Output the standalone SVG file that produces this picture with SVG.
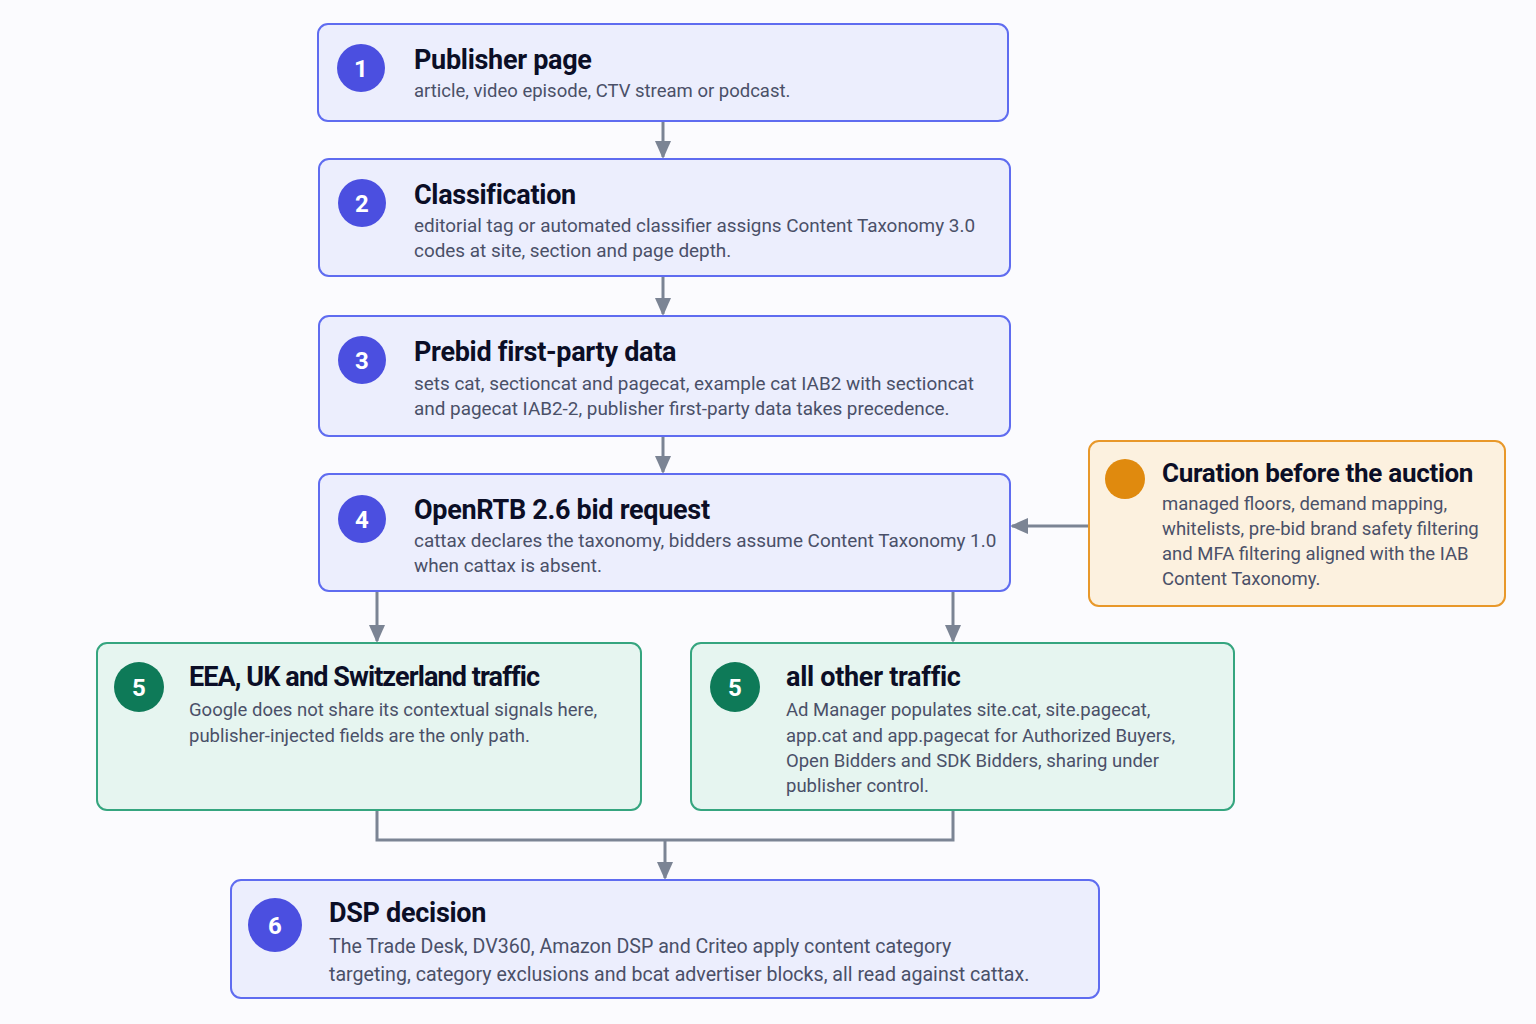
<svg xmlns="http://www.w3.org/2000/svg" width="1536" height="1024" viewBox="0 0 1536 1024">
<style>
.bg{fill:#fbfbfe}
.nb{fill:#eceefd;stroke:#5f6cf0;stroke-width:2}
.ng{fill:#e6f5f0;stroke:#35a57f;stroke-width:2}
.no{fill:#fcf1df;stroke:#e8982a;stroke-width:2}
.cb{fill:#4b4fe0}
.cg{fill:#0e7a58}
.co{fill:#e08a0e}
.num{font-family:Roboto,"Liberation Sans",sans-serif;font-weight:700;font-size:24px;fill:#fff;text-anchor:middle}
.t{font-family:Roboto,"Liberation Sans",sans-serif;font-weight:700;font-size:27px;fill:#0b0e26;letter-spacing:-0.3px}
.s{font-family:Roboto,"Liberation Sans",sans-serif;font-size:18.5px;fill:#4a5068}
.s2{font-family:Roboto,"Liberation Sans",sans-serif;font-size:18.9px;fill:#4a5068}
.s6{font-family:Roboto,"Liberation Sans",sans-serif;font-size:19.6px;fill:#4a5068}
.l{fill:none;stroke:#7b8494;stroke-width:3}
</style>
<defs>
<marker id="a" markerWidth="18" markerHeight="18" refX="16" refY="9" orient="auto" markerUnits="userSpaceOnUse" viewBox="0 0 18 18">
<path d="M0,1 L18,9 L0,17 z" fill="#7b8494"/>
</marker>
</defs>
<rect class="bg" x="0" y="0" width="1536" height="1024"/>
<g id="connectors">
<line class="l" x1="663" y1="121" x2="663" y2="157" marker-end="url(#a)"/>
<line class="l" x1="663" y1="277" x2="663" y2="314" marker-end="url(#a)"/>
<line class="l" x1="663" y1="437" x2="663" y2="472" marker-end="url(#a)"/>
<line class="l" x1="377" y1="592" x2="377" y2="641" marker-end="url(#a)"/>
<line class="l" x1="953" y1="592" x2="953" y2="641" marker-end="url(#a)"/>
<line class="l" x1="1089" y1="526" x2="1012" y2="526" marker-end="url(#a)"/>
<polyline class="l" points="377,811 377,840 953,840 953,811"/>
<line class="l" x1="665" y1="840" x2="665" y2="878" marker-end="url(#a)"/>
</g>
<g id="n1">
<rect class="nb" x="318" y="24" width="690" height="97" rx="10"/>
<circle class="cb" cx="361" cy="68" r="24"/>
<text class="num" x="361" y="77">1</text>
<text class="t" x="414" y="69">Publisher page</text>
<text class="s" x="414" y="97">article, video episode, CTV stream or podcast.</text>
</g>
<g id="n2">
<rect class="nb" x="319" y="159" width="691" height="117" rx="10"/>
<circle class="cb" cx="362" cy="203" r="24"/>
<text class="num" x="362" y="212">2</text>
<text class="t" x="414" y="204">Classification</text>
<text class="s2" x="414" y="232">editorial tag or automated classifier assigns Content Taxonomy 3.0</text>
<text class="s2" x="414" y="257">codes at site, section and page depth.</text>
</g>
<g id="n3">
<rect class="nb" x="319" y="316" width="691" height="120" rx="10"/>
<circle class="cb" cx="362" cy="360" r="24"/>
<text class="num" x="362" y="369">3</text>
<text class="t" x="414" y="361">Prebid first-party data</text>
<text class="s2" x="414" y="390">sets cat, sectioncat and pagecat, example cat IAB2 with sectioncat</text>
<text class="s2" x="414" y="415">and pagecat IAB2-2, publisher first-party data takes precedence.</text>
</g>
<g id="n4">
<rect class="nb" x="319" y="474" width="691" height="117" rx="10"/>
<circle class="cb" cx="362" cy="519" r="24"/>
<text class="num" x="362" y="528">4</text>
<text class="t" x="414" y="519">OpenRTB 2.6 bid request</text>
<text class="s2" x="414" y="547">cattax declares the taxonomy, bidders assume Content Taxonomy 1.0</text>
<text class="s2" x="414" y="572">when cattax is absent.</text>
</g>
<g id="curation">
<rect class="no" x="1089" y="441" width="416" height="165" rx="10"/>
<circle class="co" cx="1125" cy="479" r="20"/>
<text class="t" x="1162" y="482" style="font-size:26px">Curation before the auction</text>
<text class="s" x="1162" y="510">managed floors, demand mapping,</text>
<text class="s" x="1162" y="535">whitelists, pre-bid brand safety filtering</text>
<text class="s" x="1162" y="560">and MFA filtering aligned with the IAB</text>
<text class="s" x="1162" y="585">Content Taxonomy.</text>
</g>
<g id="n5a">
<rect class="ng" x="97" y="643" width="544" height="167" rx="10"/>
<circle class="cg" cx="139" cy="687" r="25"/>
<text class="num" x="139" y="696">5</text>
<text class="t" x="189" y="686" style="letter-spacing:-0.9px">EEA, UK and Switzerland traffic</text>
<text class="s" x="189" y="716">Google does not share its contextual signals here,</text>
<text class="s" x="189" y="742">publisher-injected fields are the only path.</text>
</g>
<g id="n5b">
<rect class="ng" x="691" y="643" width="543" height="167" rx="10"/>
<circle class="cg" cx="735" cy="687" r="25"/>
<text class="num" x="735" y="696">5</text>
<text class="t" x="786" y="686">all other traffic</text>
<text class="s" x="786" y="716">Ad Manager populates site.cat, site.pagecat,</text>
<text class="s" x="786" y="742">app.cat and app.pagecat for Authorized Buyers,</text>
<text class="s" x="786" y="767">Open Bidders and SDK Bidders, sharing under</text>
<text class="s" x="786" y="792">publisher control.</text>
</g>
<g id="n6">
<rect class="nb" x="231" y="880" width="868" height="118" rx="10"/>
<circle class="cb" cx="275" cy="925" r="27"/>
<text class="num" x="275" y="934">6</text>
<text class="t" x="329" y="922">DSP decision</text>
<text class="s6" x="329" y="953">The Trade Desk, DV360, Amazon DSP and Criteo apply content category</text>
<text class="s6" x="329" y="981">targeting, category exclusions and bcat advertiser blocks, all read against cattax.</text>
</g>
</svg>
